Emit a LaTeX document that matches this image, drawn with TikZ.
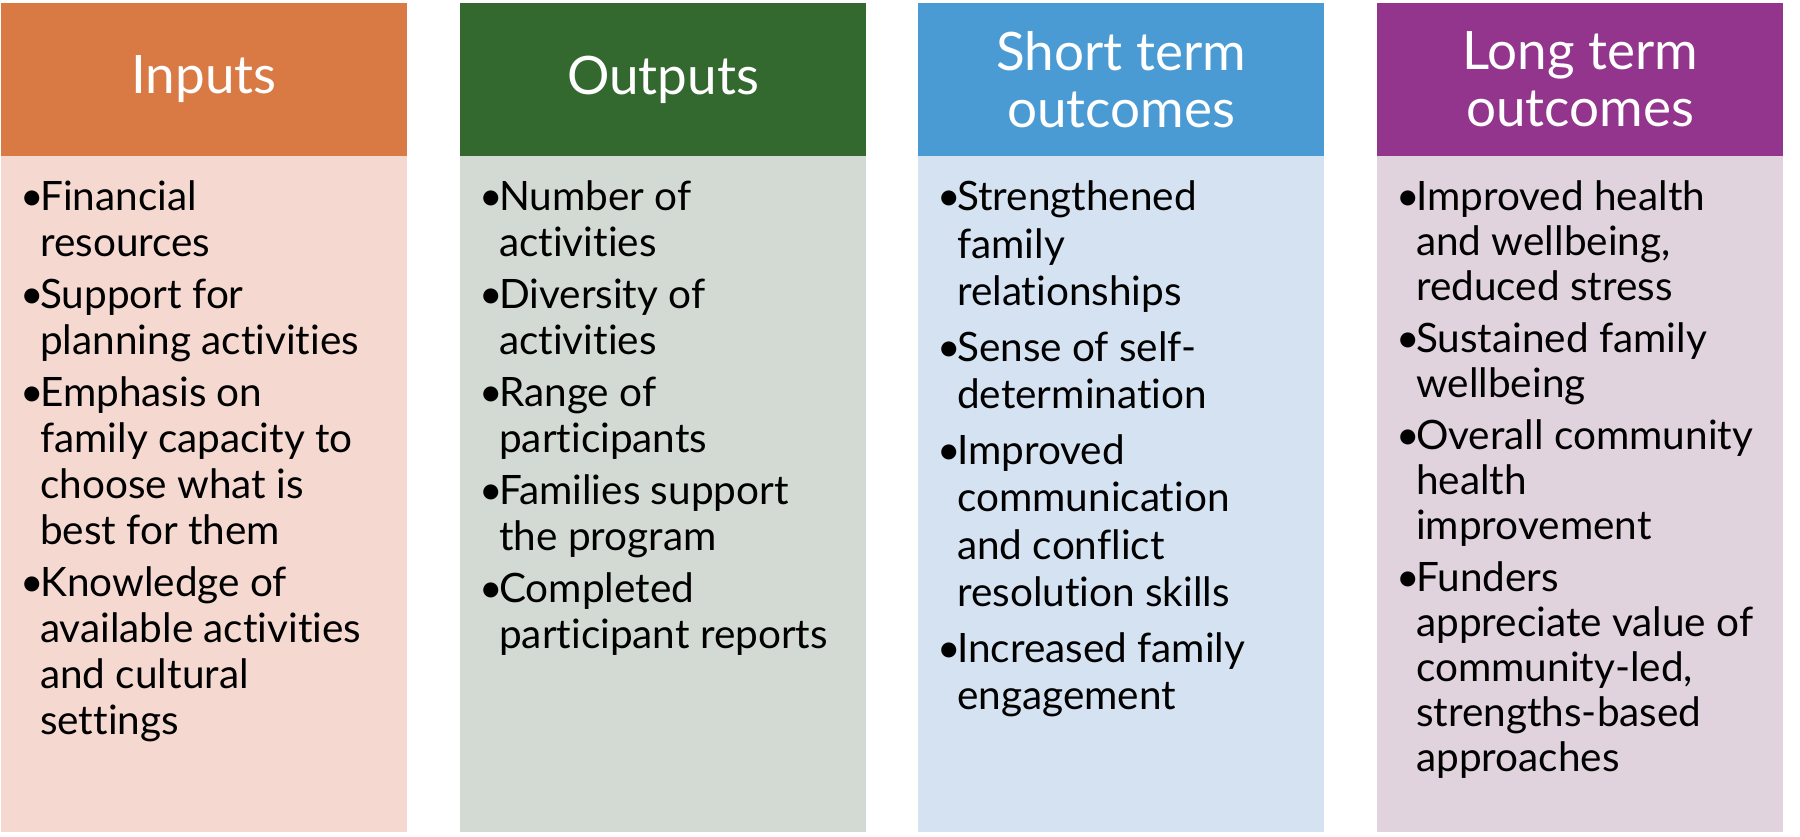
\documentclass[tikz,border=0pt]{standalone}
\usepackage{fontspec}
\setmainfont{Lato}[Ligatures={NoCommon}]
\definecolor{inH}{HTML}{D97A45}
\definecolor{inB}{HTML}{F5D9D1}
\definecolor{outH}{HTML}{33692F}
\definecolor{outB}{HTML}{D3DAD3}
\definecolor{stH}{HTML}{4A9BD3}
\definecolor{stB}{HTML}{D5E2F1}
\definecolor{ltH}{HTML}{93358D}
\definecolor{ltB}{HTML}{E0D3DE}
\newcommand{\bul}{\makebox[20pt][l]{•}}
\tikzset{
  hdr/.style={minimum width=406pt, minimum height=153pt, inner sep=0pt, text=white, align=center, font=\fontsize{53}{57}\selectfont},
  bodybox/.style={minimum width=406pt, minimum height=676pt, inner sep=0pt},
  bodytext/.style={anchor=base west, inner sep=0pt, text=black}
}
\begin{document}
\begin{tikzpicture}[x=1pt,y=-1pt]
\useasboundingbox (0,0) rectangle (1800,837);
\fill[white] (0,0) rectangle (1800,837);
% Inputs
\node[hdr, fill=inH] (inhead) at (204,79.5) {Inputs};
\node[bodybox, fill=inB] (inbody) at (204,494) {};
\node[bodytext, font=\fontsize{40.5}{46}\selectfont] (intext) at (20,211) {\begin{tabular}[t]{@{}l@{}l@{}}
\bul & Financial\\ & resources\\[6pt]
\bul & Support for\\ & planning activities\\[6pt]
\bul & Emphasis on\\ & family capacity to\\ & choose what is\\ & best for them\\[6pt]
\bul & Knowledge of\\ & available activities\\ & and cultural\\ & settings
\end{tabular}};
% Outputs
\node[bodybox, fill=outB] (outbody) at (663,494) {};
\node[hdr, fill=outH] (outhead) at (663,79.5) {Outputs};
\node[bodytext, font=\fontsize{40.5}{46}\selectfont] (outtext) at (479,211) {\begin{tabular}[t]{@{}l@{}l@{}}
\bul & Number of\\ & activities\\[6pt]
\bul & Diversity of\\ & activities\\[6pt]
\bul & Range of\\ & participants\\[6pt]
\bul & Families support\\ & the program\\[6pt]
\bul & Completed\\ & participant reports
\end{tabular}};
% Short term
\node[hdr, fill=stH] (sthead) at (1121,79.5) {Short term\\outcomes};
\node[bodybox, fill=stB] (stbody) at (1121,494) {};
\node[bodytext, font=\fontsize{40.5}{47.5}\selectfont] (sttext) at (937,211) {\begin{tabular}[t]{@{}l@{}l@{}}
\bul & Strengthened\\ & family\\ & relationships\\[8pt]
\bul & Sense of self-\\ & determination\\[8pt]
\bul & Improved\\ & communication\\ & and conflict\\ & resolution skills\\[8pt]
\bul & Increased family\\ & engagement
\end{tabular}};
% Long term
\node[hdr, fill=ltH] (lthead) at (1580,79.5) {Long term\\outcomes};
\node[bodybox, fill=ltB] (ltbody) at (1580,494) {};
\node[bodytext, font=\fontsize{40.5}{45}\selectfont] (lttext) at (1396,211) {\begin{tabular}[t]{@{}l@{}l@{}}
\bul & Improved health\\ & and wellbeing,\\ & reduced stress\\[7pt]
\bul & Sustained family\\ & wellbeing\\[7pt]
\bul & Overall community\\ & health\\ & improvement\\[7pt]
\bul & Funders\\ & appreciate value of\\ & community-led,\\ & strengths-based\\ & approaches
\end{tabular}};
\end{tikzpicture}
\end{document}
